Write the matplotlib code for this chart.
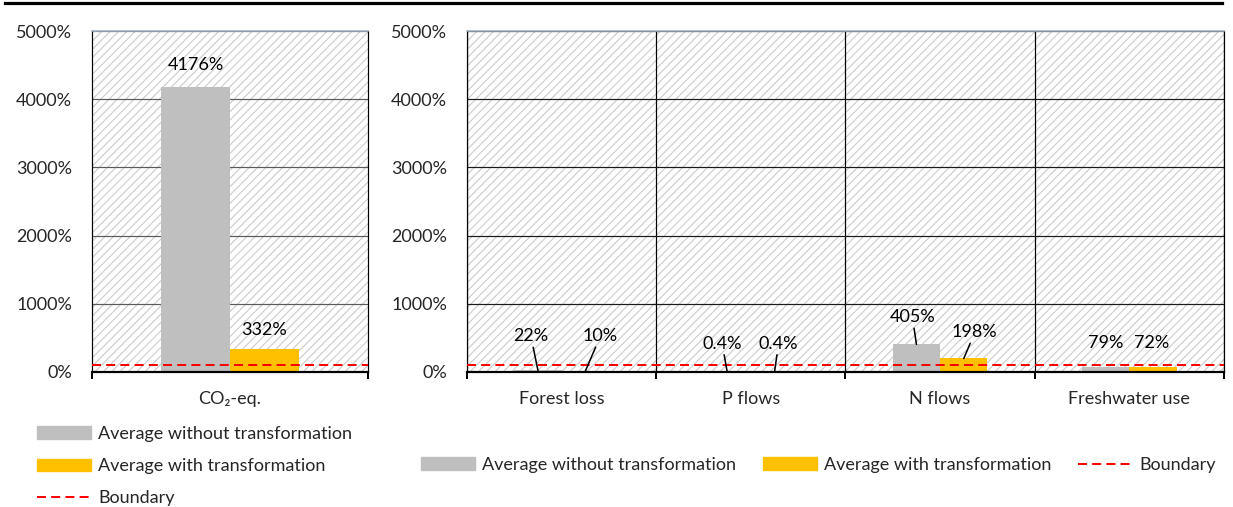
import matplotlib
matplotlib.use("Agg")
import matplotlib.pyplot as plt
from matplotlib.patches import Patch, Rectangle
from matplotlib.lines import Line2D
from matplotlib.ticker import FuncFormatter, FixedLocator

# ---------------- data ----------------
left_categories = ["CO\u2082-eq."]
left_without = [4176]
left_with = [332]

right_categories = ["Forest loss", "P flows", "N flows", "Freshwater use"]
right_without = [22, 0.4, 405, 79]
right_with = [10, 0.4, 198, 72]

boundary = 100
y_ticks = [0, 1000, 2000, 3000, 4000, 5000]
legend_labels = ["Average without transformation", "Average with transformation", "Boundary"]

# ---------------- style ----------------
W, H, DPI = 1233, 507, 100
PX = 72.0 / DPI  # points per pixel
GRAY = "#BFBFBF"
ORANGE = "#FFC000"
TXT = "#262626"
FS = 13

plt.rcParams["font.family"] = ["Lato", "DejaVu Sans"]
plt.rcParams["font.size"] = FS
plt.rcParams["hatch.linewidth"] = 0.75
plt.rcParams["lines.scale_dashes"] = True

fig = plt.figure(figsize=(W / DPI, H / DPI), dpi=DPI)

def fx(x):
    return x / W

def fy(y):
    return 1 - y / H

ax_l = fig.add_axes([fx(92), fy(372), fx(368) - fx(92), fy(31) - fy(372)])
ax_r = fig.add_axes([fx(467), fy(372), fx(1224) - fx(467), fy(31) - fy(372)])

BW = 0.25

def style_axes(ax, ncat, grid_color, vgrid):
    ax.set_xlim(-0.5, ncat - 0.5)
    ax.set_ylim(0, 5000)
    ax.add_patch(Rectangle((0, 0), 1, 1, transform=ax.transAxes, facecolor="white",
                           edgecolor="#c8c8c8", hatch="////", lw=0, zorder=0.1))
    ax.set_axisbelow(True)
    ax.yaxis.set_major_locator(FixedLocator(y_ticks))
    ax.yaxis.set_major_formatter(FuncFormatter(lambda v, p: f"{v:.0f}%"))
    ax.yaxis.grid(True, color=grid_color, lw=1.0 * PX * 1.2)
    ax.tick_params(axis="y", length=0, pad=20 * PX, labelcolor=TXT, labelsize=FS)
    ax.set_xticks(range(ncat))
    ax.set_xticks([i - 0.5 for i in range(ncat + 1)], minor=True)
    ax.tick_params(axis="x", which="major", length=0, pad=19 * PX, labelcolor=TXT, labelsize=FS)
    ax.tick_params(axis="x", which="minor", length=7 * PX, width=2 * PX, color="black",
                   direction="out")
    if vgrid:
        ax.xaxis.grid(True, which="minor", color="black", lw=1.0 * PX * 1.2)
    ax.spines["top"].set_color("#9fb0c2")
    ax.spines["top"].set_linewidth(1.6 * PX)
    for s in ("left", "right"):
        ax.spines[s].set_color("black")
        ax.spines[s].set_linewidth(1.2 * PX)
    ax.spines["bottom"].set_color("black")
    ax.spines["bottom"].set_linewidth(2.2 * PX)

style_axes(ax_l, len(left_categories), "#5a5a5a", False)
style_axes(ax_r, len(right_categories), "#1a1a1a", True)

def draw_bars(ax, cats, wo, wi):
    x = list(range(len(cats)))
    b1 = ax.bar([i - BW / 2 for i in x], wo, width=BW, color=GRAY, zorder=2)
    b2 = ax.bar([i + BW / 2 for i in x], wi, width=BW, color=ORANGE, zorder=2)
    ax.set_xticklabels(cats)
    ax.axhline(boundary, color="#FF0000", lw=2 * PX, dashes=(4.5, 2.6), zorder=3)
    return b1, b2

draw_bars(ax_l, left_categories, left_without, left_with)
draw_bars(ax_r, right_categories, right_without, right_with)

def fmt(v):
    return f"{v:g}%"

def label(ax, xpos, val, dx, dy, leader):
    kw = dict(textcoords="offset points", ha="center", va="center",
              fontsize=FS, color="black", zorder=5)
    if leader:
        kw["arrowprops"] = dict(arrowstyle="-", color="black", lw=1.3 * PX * 1.2,
                                shrinkA=0, shrinkB=0)
    ax.annotate(fmt(val), xy=(xpos, val), xytext=(dx * PX, dy * PX), **kw)

# left labels (offsets in px)
label(ax_l, 0 - BW / 2, left_without[0], 0, 22, False)
label(ax_l, 0 + BW / 2, left_with[0], 0, 19, False)

# right labels: (dx, dy, leader) per bar
off_wo = [(-7, 34, True), (-5, 28, True), (-4, 27, True), (0, 24, False)]
off_wi = [(15, 35, True), (4, 28, True), (11, 26, True), (-1, 24, False)]
for i in range(len(right_categories)):
    dx, dy, ld = off_wo[i]
    label(ax_r, i - BW / 2, right_without[i], dx, dy, ld)
    dx, dy, ld = off_wi[i]
    label(ax_r, i + BW / 2, right_with[i], dx, dy, ld)

# legends
handles = [Patch(facecolor=GRAY, edgecolor=GRAY),
           Patch(facecolor=ORANGE, edgecolor=ORANGE),
           Line2D([], [], color="#FF0000", lw=2 * PX, dashes=(4.5, 2.6))]

leg1 = fig.legend(handles, legend_labels, loc="upper left",
                  bbox_to_anchor=(fx(37), fy(426)), frameon=False, ncol=1,
                  fontsize=FS, borderpad=0, borderaxespad=0, handlelength=3.0,
                  handleheight=0.7, handletextpad=0.4, labelspacing=0.9,
                  labelcolor=TXT)
leg2 = fig.legend(handles, legend_labels, loc="center left",
                  bbox_to_anchor=(fx(421), fy(465)), frameon=False, ncol=3,
                  fontsize=FS, borderpad=0, borderaxespad=0, handlelength=3.0,
                  handleheight=0.7, handletextpad=0.4, columnspacing=1.45,
                  labelcolor=TXT)

# top rule
fig.add_artist(Line2D([fx(5), fx(1222)], [fy(3), fy(3)], color="black", lw=3.2 * PX))

fig.savefig("out.png", dpi=DPI)
